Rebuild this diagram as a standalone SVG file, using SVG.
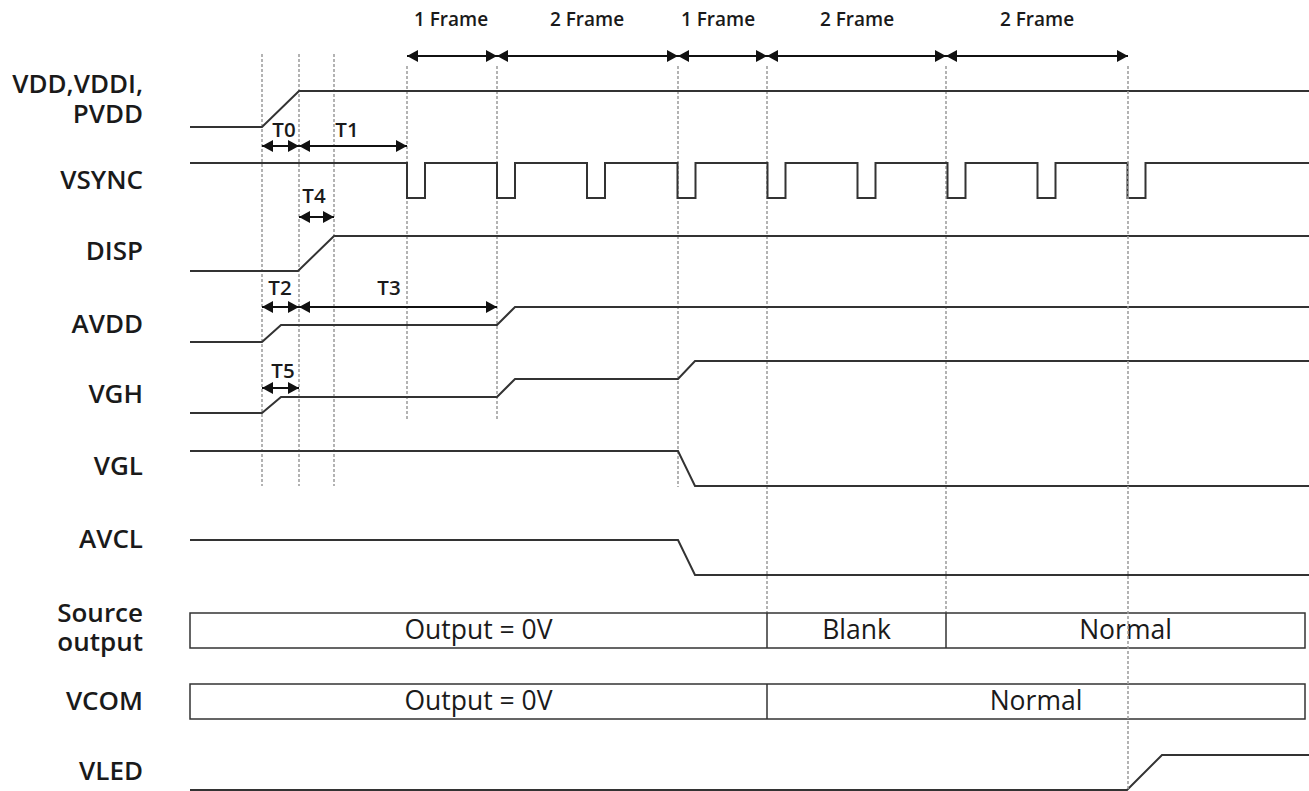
<svg xmlns="http://www.w3.org/2000/svg" width="1309" height="791" viewBox="0 0 1309 791">
<style>
.bg{fill:#ffffff}
.lbl{font-family:"Open Sans","Noto Sans","Liberation Sans",sans-serif;font-weight:600;font-size:26px;fill:#1a1a1a;text-anchor:end}
.tl{font-family:"Open Sans","Noto Sans","Liberation Sans",sans-serif;font-weight:600;font-size:20.5px;fill:#1a1a1a;text-anchor:middle}
.fl{font-family:"Open Sans","Noto Sans","Liberation Sans",sans-serif;font-weight:600;font-size:19px;fill:#1a1a1a;text-anchor:middle}
.bt{font-family:"Open Sans","Noto Sans","Liberation Sans",sans-serif;font-weight:500;font-size:26.5px;fill:#1a1a1a;text-anchor:middle}
.sig{fill:none;stroke:#333;stroke-width:2;stroke-linejoin:miter}
.grid{stroke:#9a9a9a;stroke-width:1.5;stroke-dasharray:3 2;fill:none}
.box{fill:#fff;stroke:#333;stroke-width:1.5}
.arr{stroke:#111;stroke-width:2;fill:none;marker-start:url(#ah);marker-end:url(#ah)}
.arr1{stroke:#111;stroke-width:2;fill:none;marker-end:url(#ah)}
</style>
<defs>
<marker id="ah" viewBox="0 0 11 12" refX="11" refY="6" markerWidth="11" markerHeight="12" markerUnits="userSpaceOnUse" orient="auto-start-reverse">
<path d="M0,0 L11,6 L0,12 z" fill="#111"/>
</marker>
</defs>
<rect class="bg" x="0" y="0" width="1309" height="791"/>

<g id="gridlines">
<line class="grid" x1="262" y1="54" x2="262" y2="486"/>
<line class="grid" x1="299" y1="54" x2="299" y2="486"/>
<line class="grid" x1="334" y1="54" x2="334" y2="486"/>
<line class="grid" x1="407" y1="66" x2="407" y2="421"/>
<line class="grid" x1="497" y1="66" x2="497" y2="421"/>
<line class="grid" x1="678" y1="66" x2="678" y2="487"/>
<line class="grid" x1="767" y1="66" x2="767" y2="613"/>
<line class="grid" x1="946" y1="66" x2="946" y2="613"/>
</g>

<g id="labels">
<text class="lbl"><tspan x="143" y="93">VDD,VDDI,</tspan><tspan x="143" y="123">PVDD</tspan></text>
<text class="lbl" x="143" y="189">VSYNC</text>
<text class="lbl" x="143" y="260">DISP</text>
<text class="lbl" x="143" y="333">AVDD</text>
<text class="lbl" x="143" y="403">VGH</text>
<text class="lbl" x="143" y="475">VGL</text>
<text class="lbl" x="143" y="548">AVCL</text>
<text class="lbl"><tspan x="143" y="622">Source</tspan><tspan x="143" y="651">output</tspan></text>
<text class="lbl" x="143" y="710">VCOM</text>
<text class="lbl" x="143" y="780">VLED</text>
</g>

<g id="signals">
<polyline id="vdd" class="sig" points="190,127 262,127 299,91 1309,91"/>
<polyline id="vsync" class="sig" points="190,163 407,163 407,198 425,198 425,163 497,163 497,198 515,198 515,163 587,163 587,198 605,198 605,163 677.5,163 677.5,198 695.5,198 695.5,163 767.5,163 767.5,198 785.5,198 785.5,163 857.5,163 857.5,198 875.5,198 875.5,163 947.5,163 947.5,198 965.5,198 965.5,163 1037.5,163 1037.5,198 1055.5,198 1055.5,163 1127.5,163 1127.5,198 1145.5,198 1145.5,163 1309,163"/>
<polyline id="disp" class="sig" points="190,271 298,271 334,236 1309,236"/>
<polyline id="avdd" class="sig" points="190,342 262,342 281,325 497,325 515,307 1309,307"/>
<polyline id="vgh" class="sig" points="190,413 262,413 281,397 497,397 515,379 678,379 695,361 1309,361"/>
<polyline id="vgl" class="sig" points="190,451 678,451 695,486 1309,486"/>
<polyline id="avcl" class="sig" points="190,540 678,540 695,575 1309,575"/>
<polyline id="vled" class="sig" points="190,790 1127,790 1162,755 1309,755"/>
</g>

<g id="source-output">
<rect class="box" x="190" y="613" width="1115" height="35"/>
<line class="box" x1="767" y1="613" x2="767" y2="648"/>
<line class="box" x1="946" y1="613" x2="946" y2="648"/>
<text class="bt" x="478.5" y="639">Output = 0V</text>
<text class="bt" x="856.5" y="639">Blank</text>
<text class="bt" x="1125.5" y="639">Normal</text>
</g>

<g id="vcom">
<rect class="box" x="190" y="684" width="1115" height="35"/>
<line class="box" x1="767" y1="684" x2="767" y2="719"/>
<text class="bt" x="478.5" y="710">Output = 0V</text>
<text class="bt" x="1036" y="710">Normal</text>
</g>

<g id="vline-1128">
<line class="grid" x1="1128" y1="66" x2="1128" y2="790"/>
</g>

<g id="connectors">
<line class="arr" x1="407" y1="56" x2="497" y2="56"/>
<line class="arr" x1="497" y1="56" x2="678" y2="56"/>
<line class="arr" x1="678" y1="56" x2="767" y2="56"/>
<line class="arr" x1="767" y1="56" x2="946" y2="56"/>
<line class="arr1" x1="946" y1="56" x2="1128" y2="56"/>
<path d="M946,56 L957,50 L957,62 z" fill="#111"/>
<line class="arr" x1="262" y1="146" x2="299" y2="146"/>
<line class="arr1" x1="299" y1="146" x2="407" y2="146"/>
<path d="M299,146 L310,140 L310,152 z" fill="#111"/>
<line class="arr" x1="299" y1="217" x2="334" y2="217"/>
<line class="arr" x1="262" y1="307" x2="299" y2="307"/>
<line class="arr" x1="299" y1="307" x2="497" y2="307"/>
<line class="arr" x1="262" y1="388" x2="299" y2="388"/>
</g>

<g id="frame-labels">
<text class="fl" x="451" y="26">1 Frame</text>
<text class="fl" x="587" y="26">2 Frame</text>
<text class="fl" x="718" y="26">1 Frame</text>
<text class="fl" x="857" y="26">2 Frame</text>
<text class="fl" x="1037" y="26">2 Frame</text>
</g>

<g id="time-labels">
<text class="tl" x="284" y="137">T0</text>
<text class="tl" x="347" y="137">T1</text>
<text class="tl" x="314" y="203">T4</text>
<text class="tl" x="280" y="295">T2</text>
<text class="tl" x="389" y="295">T3</text>
<text class="tl" x="283" y="378">T5</text>
</g>
</svg>
